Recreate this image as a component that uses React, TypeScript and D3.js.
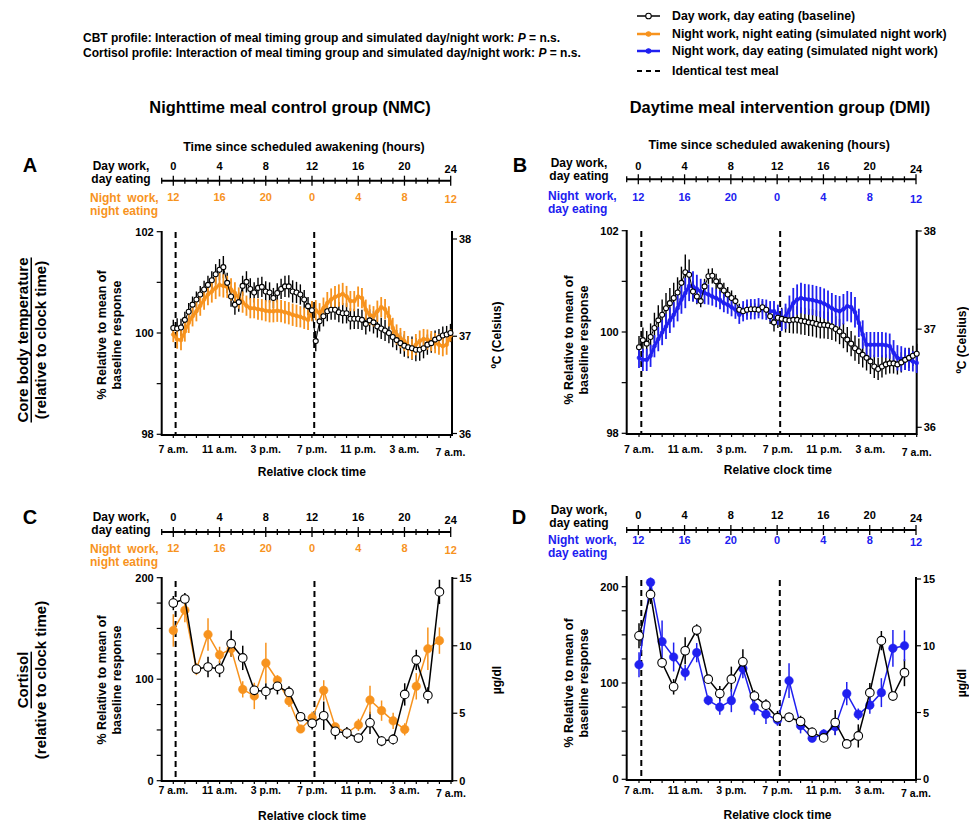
import React, { useEffect, useRef } from 'react'
import * as d3 from 'd3'

// ---------------- data ----------------
const clockLabels = ['7 a.m.', '11 a.m.', '3 p.m.', '7 p.m.', '11 p.m.', '3 a.m.', '7 a.m.']
const dayWorkHours = ['0', '4', '8', '12', '16', '20', '24']
const nightWorkHours = ['12', '16', '20', '0', '4', '8', '12']
const mealHours = [0.2, 12.2]

const cbtStepHours = 1 / 3 // 20-min bins
const cortisolStepHours = 1

// Core body temperature, % relative to mean of baseline
const cbtNmcBaseline = [100.10, 100.09, 100.11, 100.26, 100.42, 100.56, 100.66, 100.76, 100.86, 100.95,
  101.04, 101.16, 101.25, 101.30, 100.99, 100.72, 100.56, 100.61, 100.93, 101.01,
  100.87, 100.80, 100.89, 100.91, 100.82, 100.80, 100.69, 100.79, 100.87, 100.92,
  100.92, 100.82, 100.80, 100.76, 100.66, 100.53, 100.45, 99.84, 100.23, 100.33,
  100.43, 100.46, 100.46, 100.41, 100.39, 100.39, 100.28, 100.28, 100.28, 100.26,
  100.18, 100.25, 100.21, 100.13, 100.09, 100.05, 100.00, 99.92, 99.86, 99.80,
  99.75, 99.72, 99.70, 99.67, 99.67, 99.70, 99.77, 99.80, 99.87, 99.90,
  99.95, 99.97, 100.00]
const cbtNmcBaselineErr = [0.16, 0.2, 0.17, 0.16, 0.17, 0.16, 0.16, 0.17, 0.17, 0.18,
  0.18, 0.2, 0.21, 0.22, 0.2, 0.2, 0.2, 0.19, 0.2, 0.21,
  0.21, 0.2, 0.2, 0.2, 0.2, 0.2, 0.2, 0.19, 0.2, 0.21,
  0.22, 0.22, 0.21, 0.2, 0.19, 0.18, 0.18, 0.2, 0.2, 0.2,
  0.2, 0.2, 0.2, 0.2, 0.2, 0.2, 0.21, 0.2, 0.2, 0.2,
  0.21, 0.22, 0.22, 0.22, 0.21, 0.21, 0.2, 0.2, 0.2, 0.21,
  0.22, 0.22, 0.23, 0.23, 0.22, 0.2, 0.2, 0.19, 0.18, 0.18,
  0.18, 0.17, 0.18]
const cbtNmcNight = [99.97, 99.87, 99.86, 100.03, 100.20, 100.33, 100.43, 100.54, 100.66, 100.76,
  100.82, 100.89, 100.95, 100.93, 100.91, 100.86, 100.79, 100.69, 100.61, 100.54,
  100.49, 100.49, 100.47, 100.46, 100.44, 100.43, 100.43, 100.44, 100.43, 100.41,
  100.39, 100.36, 100.34, 100.32, 100.29, 100.26, 100.43, 100.45, 100.39, 100.49,
  100.59, 100.66, 100.71, 100.74, 100.77, 100.72, 100.63, 100.63, 100.72, 100.69,
  100.46, 100.36, 100.33, 100.43, 100.51, 100.47, 100.33, 100.10, 99.97, 99.90,
  99.84, 99.74, 99.68, 99.77, 99.84, 99.88, 99.87, 99.84, 99.80, 99.77,
  99.74, 99.77, 99.95]
const cbtNmcNightErr = [0.15, 0.18, 0.2, 0.2, 0.2, 0.2, 0.2, 0.2, 0.2, 0.21,
  0.22, 0.22, 0.23, 0.23, 0.22, 0.22, 0.21, 0.21, 0.21, 0.2,
  0.2, 0.2, 0.21, 0.21, 0.21, 0.22, 0.22, 0.22, 0.22, 0.22,
  0.22, 0.22, 0.22, 0.21, 0.21, 0.2, 0.2, 0.2, 0.2, 0.21,
  0.22, 0.22, 0.22, 0.22, 0.22, 0.21, 0.2, 0.2, 0.2, 0.2,
  0.2, 0.2, 0.2, 0.21, 0.2, 0.2, 0.2, 0.2, 0.2, 0.2,
  0.2, 0.2, 0.2, 0.21, 0.21, 0.2, 0.2, 0.2, 0.2, 0.2,
  0.2, 0.2, 0.12]
const cbtDmiBaseline = [99.70, 99.84, 99.77, 99.90, 100.08, 100.23, 100.34, 100.47, 100.57, 100.67,
  100.78, 100.97, 101.18, 101.13, 100.80, 100.70, 100.61, 100.90, 101.10, 101.11,
  101.00, 100.91, 100.82, 100.74, 100.67, 100.61, 100.44, 100.41, 100.44, 100.45,
  100.45, 100.44, 100.49, 100.44, 100.31, 100.19, 100.28, 100.26, 100.24, 100.23,
  100.24, 100.24, 100.22, 100.21, 100.19, 100.18, 100.16, 100.14, 100.14, 100.13,
  100.11, 100.06, 100.01, 99.93, 99.85, 99.77, 99.68, 99.62, 99.55, 99.49,
  99.42, 99.32, 99.27, 99.32, 99.36, 99.38, 99.38, 99.36, 99.40, 99.45,
  99.49, 99.53, 99.57]
const cbtDmiBaselineErr = [0.22, 0.25, 0.25, 0.27, 0.3, 0.3, 0.3, 0.3, 0.3, 0.3,
  0.3, 0.32, 0.35, 0.3, 0.2, 0.15, 0.12, 0.15, 0.15, 0.15,
  0.15, 0.15, 0.15, 0.15, 0.15, 0.12, 0.12, 0.12, 0.12, 0.12,
  0.12, 0.12, 0.12, 0.12, 0.15, 0.18, 0.2, 0.22, 0.25, 0.25,
  0.27, 0.27, 0.27, 0.27, 0.27, 0.27, 0.27, 0.27, 0.27, 0.27,
  0.27, 0.25, 0.25, 0.25, 0.25, 0.25, 0.25, 0.25, 0.25, 0.25,
  0.25, 0.23, 0.22, 0.22, 0.2, 0.2, 0.2, 0.2, 0.2, 0.2,
  0.2, 0.2, 0.2]
const cbtDmiNight = [99.49, 99.45, 99.45, 99.53, 99.72, 99.86, 99.99, 100.11, 100.23, 100.34,
  100.47, 100.64, 100.77, 100.91, 100.90, 100.85, 100.80, 100.77, 100.74, 100.70,
  100.67, 100.63, 100.57, 100.54, 100.49, 100.44, 100.34, 100.41, 100.44, 100.45,
  100.45, 100.47, 100.45, 100.44, 100.41, 100.41, 100.34, 100.24, 100.31, 100.44,
  100.57, 100.64, 100.67, 100.65, 100.64, 100.63, 100.61, 100.59, 100.56, 100.52,
  100.47, 100.43, 100.41, 100.45, 100.51, 100.49, 100.39, 100.18, 99.95, 99.75,
  99.75, 99.75, 99.75, 99.75, 99.74, 99.72, 99.59, 99.49, 99.47, 99.47,
  99.45, 99.42, 99.39]
const cbtDmiNightErr = [0.2, 0.22, 0.22, 0.22, 0.22, 0.24, 0.25, 0.25, 0.25, 0.25,
  0.26, 0.28, 0.3, 0.3, 0.3, 0.28, 0.25, 0.22, 0.2, 0.18,
  0.18, 0.18, 0.18, 0.18, 0.18, 0.18, 0.18, 0.2, 0.2, 0.2,
  0.2, 0.2, 0.2, 0.2, 0.2, 0.2, 0.2, 0.22, 0.25, 0.28,
  0.3, 0.3, 0.3, 0.3, 0.3, 0.3, 0.3, 0.3, 0.3, 0.3,
  0.3, 0.3, 0.3, 0.3, 0.3, 0.3, 0.3, 0.28, 0.28, 0.25,
  0.25, 0.25, 0.25, 0.25, 0.25, 0.25, 0.25, 0.25, 0.25, 0.22,
  0.22, 0.2, 0.2]

// Cortisol, % relative to mean of baseline (hourly)
const cortNmcBaseline = [175, 179, 110, 112, 110, 135, 121, 89, 88, 93, 87, 63, 56.5, 64, 48.6, 47, 42, 57, 39, 40.7, 85, 119, 84, 186]
const cortNmcBaselineErr = [7, 6, 5, 10, 8, 13, 12, 6, 8, 8, 6, 4, 6, 14, 8, 6, 4, 11, 5, 5, 11, 10, 8, 12]
const cortNmcNight = [148, 168, 110, 144, 124, 130, 90, 83.5, 116, 99, 78.5, 51, 62, 89, 53, 47, 55, 79.5, 69, 59, 50.6, 93, 130, 138]
const cortNmcNightErr = [16, 12, 6, 16, 8, 8, 8, 13, 20, 5, 6, 3, 6, 10, 4, 4, 6, 14, 10, 8, 6, 13, 21, 13]
const cortDmiBaseline = [149, 192, 121, 96, 133.5, 155, 104, 89, 104, 122, 86.5, 77, 64, 64.4, 60, 48.8, 43, 59, 36.7, 45, 90, 144, 86.5, 110.7]
const cortDmiBaselineErr = [13, 10, 5, 8, 14, 6, 4, 8, 13, 13, 6, 6, 7, 5, 6, 5, 4, 13, 3, 12, 10, 10, 5, 14]
const cortDmiNight = [119, 204.5, 143, 127, 110.7, 131.5, 82, 75, 81.7, 115, 75, 67.5, 61.6, 102.4, 55.7, 42.6, 47, 54.7, 89, 67.5, 77, 90, 136, 138.7]
const cortDmiNightErr = [13, 5, 22, 15, 8, 10, 5, 8, 12, 10, 8, 10, 6, 18, 8, 4, 5, 9, 12, 6, 9, 15, 19, 16]

const FONT = '"Liberation Sans", Arial, Helvetica, sans-serif'
const ORANGE = '#f7931e'
const BLUE = '#2020f0'

type Sel = d3.Selection<any, unknown, null, undefined>

interface SeriesStyle {
  color: string
  lineWidth: number
  r: number
  open: boolean
  errWidth: number
}

function drawSeries(g: Sel, x: d3.ScaleLinear<number, number>, y: d3.ScaleLinear<number, number>,
  values: number[], errs: number[], step: number, s: SeriesStyle, part: 'err' | 'line') {
  if (part === 'err') {
    g.append('g')
      .selectAll('line')
      .data(values)
      .join('line')
      .attr('x1', (_, i) => x(i * step))
      .attr('x2', (_, i) => x(i * step))
      .attr('y1', (d, i) => y(d - errs[i]))
      .attr('y2', (d, i) => y(d + errs[i]))
      .attr('stroke', s.color)
      .attr('stroke-width', s.errWidth)
    return
  }
  const line = d3.line<number>()
    .x((_, i) => x(i * step))
    .y(d => y(d))
  g.append('path')
    .attr('d', line(values))
    .attr('fill', 'none')
    .attr('stroke', s.color)
    .attr('stroke-width', s.lineWidth)
    .attr('stroke-linejoin', 'round')
  g.append('g')
    .selectAll('circle')
    .data(values)
    .join('circle')
    .attr('cx', (_, i) => x(i * step))
    .attr('cy', d => y(d))
    .attr('r', s.r)
    .attr('fill', s.open ? '#fff' : s.color)
    .attr('stroke', s.color)
    .attr('stroke-width', s.open ? 1.1 : 0.5)
}

interface PanelCfg {
  xRange: [number, number]
  leftX: number
  rightX: number
  baseY: number
  yDomain: [number, number]
  yRange: [number, number]
  yTop: number
  yTicks: number[]
  yLabels: number[]
  rDomain: [number, number]
  rRange: [number, number]
  rTop: number
  rTicks: number[]
  rightTitle: string
  rightTitleX: number
  leftTitleX: number
  titleCY: number
  tickLabelY: number
  xTitleY: number
  mealTop: number
  step: number
  baseline: number[]
  baselineErr: number[]
  other: number[]
  otherErr: number[]
  otherColor: string
  cortisol: boolean
}

function drawPanel(svg: Sel, p: PanelCfg) {
  const g = svg.append('g')
  const x = d3.scaleLinear().domain([0, 24]).range(p.xRange)
  const y = d3.scaleLinear().domain(p.yDomain).range(p.yRange)
  const yr = d3.scaleLinear().domain(p.rDomain).range(p.rRange)

  // x axis
  g.append('line')
    .attr('x1', p.leftX).attr('x2', p.rightX)
    .attr('y1', p.baseY).attr('y2', p.baseY)
    .attr('stroke', '#000').attr('stroke-width', 2)
  g.append('g').selectAll('line')
    .data(d3.range(0, 25))
    .join('line')
    .attr('x1', d => x(d)).attr('x2', d => x(d))
    .attr('y1', p.baseY).attr('y2', p.baseY + 3)
    .attr('stroke', '#000').attr('stroke-width', 1.2)
  g.append('g').selectAll('text')
    .data(clockLabels)
    .join('text')
    .attr('x', (_, i) => x(i * 4))
    .attr('y', (_, i) => p.tickLabelY + (i === clockLabels.length - 1 ? 3 : 0))
    .attr('text-anchor', 'middle')
    .attr('dominant-baseline', 'central')
    .attr('font-size', 10.5)
    .attr('font-weight', 700)
    .text(d => d)
  g.append('text')
    .attr('x', (p.xRange[0] + p.xRange[1]) / 2)
    .attr('y', p.xTitleY)
    .attr('text-anchor', 'middle')
    .attr('dominant-baseline', 'central')
    .attr('font-size', 12)
    .attr('font-weight', 700)
    .text('Relative clock time')

  // left axis
  g.append('line')
    .attr('x1', p.leftX).attr('x2', p.leftX)
    .attr('y1', p.yTop).attr('y2', p.baseY + 1)
    .attr('stroke', '#000').attr('stroke-width', 2)
  g.append('g').selectAll('line')
    .data(p.yTicks)
    .join('line')
    .attr('x1', p.leftX - 5).attr('x2', p.leftX)
    .attr('y1', d => y(d)).attr('y2', d => y(d))
    .attr('stroke', '#000').attr('stroke-width', 1.2)
  g.append('g').selectAll('text')
    .data(p.yLabels)
    .join('text')
    .attr('x', p.leftX - 8)
    .attr('y', d => y(d))
    .attr('text-anchor', 'end')
    .attr('dominant-baseline', 'central')
    .attr('font-size', 11)
    .attr('font-weight', 700)
    .text(d => d)
  const lt = g.append('text')
    .attr('transform', `translate(${p.leftTitleX},${p.titleCY}) rotate(-90)`)
    .attr('text-anchor', 'middle')
    .attr('font-size', 12.5)
    .attr('font-weight', 700)
  lt.append('tspan').attr('x', 0).attr('dy', 0).text('% Relative to mean of')
  lt.append('tspan').attr('x', 0).attr('dy', 15).text('baseline response')

  // right axis
  g.append('line')
    .attr('x1', p.rightX).attr('x2', p.rightX)
    .attr('y1', p.rTop).attr('y2', p.baseY + 1)
    .attr('stroke', '#000').attr('stroke-width', 2)
  g.append('g').selectAll('line')
    .data(p.rTicks)
    .join('line')
    .attr('x1', p.rightX).attr('x2', p.rightX + 5)
    .attr('y1', d => yr(d)).attr('y2', d => yr(d))
    .attr('stroke', '#000').attr('stroke-width', 1.2)
  g.append('g').selectAll('text')
    .data(p.rTicks)
    .join('text')
    .attr('x', p.rightX + 7)
    .attr('y', d => yr(d))
    .attr('dominant-baseline', 'central')
    .attr('font-size', 11)
    .attr('font-weight', 700)
    .text(d => d)
  g.append('text')
    .attr('transform', `translate(${p.rightTitleX},${p.titleCY}) rotate(-90)`)
    .attr('text-anchor', 'middle')
    .attr('dominant-baseline', 'central')
    .attr('font-size', 12)
    .attr('font-weight', 700)
    .text(p.rightTitle)

  // identical test meal
  g.append('g').selectAll('line')
    .data(mealHours)
    .join('line')
    .attr('x1', d => x(d)).attr('x2', d => x(d))
    .attr('y1', p.mealTop).attr('y2', p.baseY)
    .attr('stroke', '#000').attr('stroke-width', 2)
    .attr('stroke-dasharray', '6,4')

  const baseStyle: SeriesStyle = p.cortisol
    ? { color: '#000', lineWidth: 1.5, r: 4.3, open: true, errWidth: 1.5 }
    : { color: '#000', lineWidth: 1, r: 2.5, open: true, errWidth: 1.4 }
  const otherStyle: SeriesStyle = p.cortisol
    ? { color: p.otherColor, lineWidth: 1.5, r: 4.3, open: false, errWidth: 1.5 }
    : { color: p.otherColor, lineWidth: 3, r: 2, open: false, errWidth: 1.8 }

  drawSeries(g, x, y, p.baseline, p.baselineErr, p.step, baseStyle, 'err')
  drawSeries(g, x, y, p.other, p.otherErr, p.step, otherStyle, 'err')
  drawSeries(g, x, y, p.other, p.otherErr, p.step, otherStyle, 'line')
  drawSeries(g, x, y, p.baseline, p.baselineErr, p.step, baseStyle, 'line')
}

interface TopAxisCfg {
  leftX: number
  xRange: [number, number]
  lineY: number
  numY: number
  colNumY: number
  dayCX: number
  dayY: number
  nightX: number
  nightY: number
  nightLine2: string
  color: string
  title: boolean
  titleY: number
}

function drawTopAxis(svg: Sel, t: TopAxisCfg) {
  const g = svg.append('g')
  const x = d3.scaleLinear().domain([0, 24]).range(t.xRange)
  if (t.title) {
    g.append('text')
      .attr('x', (t.xRange[0] + t.xRange[1]) / 2 - 8)
      .attr('y', t.titleY)
      .attr('text-anchor', 'middle')
      .attr('dominant-baseline', 'central')
      .attr('font-size', 12.4)
      .attr('font-weight', 700)
      .text('Time since scheduled awakening (hours)')
  }
  g.append('line')
    .attr('x1', t.leftX).attr('x2', x(24))
    .attr('y1', t.lineY).attr('y2', t.lineY)
    .attr('stroke', '#000').attr('stroke-width', 2)
  g.append('g').selectAll('line')
    .data(d3.range(0, 25))
    .join('line')
    .attr('x1', d => x(d)).attr('x2', d => x(d))
    .attr('y1', d => t.lineY - (d % 4 === 0 ? 5 : 3))
    .attr('y2', d => t.lineY + (d % 4 === 0 ? 5 : 3))
    .attr('stroke', '#000').attr('stroke-width', 1.3)
  g.append('line')
    .attr('x1', t.leftX).attr('x2', t.leftX)
    .attr('y1', t.lineY - 3).attr('y2', t.lineY + 3)
    .attr('stroke', '#000').attr('stroke-width', 1.3)
  g.append('g').selectAll('text')
    .data(dayWorkHours)
    .join('text')
    .attr('x', (_, i) => x(i * 4))
    .attr('y', (_, i) => t.numY + (i === 6 ? 3 : 0))
    .attr('text-anchor', 'middle')
    .attr('dominant-baseline', 'central')
    .attr('font-size', 11)
    .attr('font-weight', 700)
    .text(d => d)
  g.append('g').selectAll('text')
    .data(nightWorkHours)
    .join('text')
    .attr('x', (_, i) => x(i * 4))
    .attr('y', (_, i) => t.colNumY + (i === 6 ? 2 : 0))
    .attr('text-anchor', 'middle')
    .attr('dominant-baseline', 'central')
    .attr('font-size', 11)
    .attr('font-weight', 700)
    .attr('fill', t.color)
    .text(d => d)
  const day = g.append('text')
    .attr('text-anchor', 'middle')
    .attr('font-size', 12)
    .attr('font-weight', 700)
  day.append('tspan').attr('x', t.dayCX).attr('y', t.dayY).attr('dominant-baseline', 'central').text('Day work,')
  day.append('tspan').attr('x', t.dayCX).attr('y', t.dayY + 13).attr('dominant-baseline', 'central').text('day eating')
  const night = g.append('text')
    .attr('font-size', 12)
    .attr('font-weight', 700)
    .attr('fill', t.color)
    .style('white-space', 'pre')
  night.append('tspan').attr('x', t.nightX).attr('y', t.nightY).attr('dominant-baseline', 'central').text('Night  work,')
  night.append('tspan').attr('x', t.nightX).attr('y', t.nightY + 13).attr('dominant-baseline', 'central').text(t.nightLine2)
}

export default function App() {
  const svgRef = useRef<SVGSVGElement>(null)

  useEffect(() => {
    if (!svgRef.current) return
    const svg = d3.select(svgRef.current) as unknown as Sel
    svg.selectAll('*').remove()
    svg.attr('font-family', FONT)

    // header statements
    const head = svg.append('g').attr('font-size', 12).attr('font-weight', 700)
    const h1 = head.append('text').attr('x', 83).attr('y', 42)
    h1.append('tspan').text('CBT profile: Interaction of meal timing group and simulated day/night work: ')
    h1.append('tspan').attr('font-style', 'italic').text('P')
    h1.append('tspan').text(' = n.s.')
    const h2 = head.append('text').attr('x', 83).attr('y', 57)
    h2.append('tspan').text('Cortisol profile: Interaction of meal timing group and simulated day/night work: ')
    h2.append('tspan').attr('font-style', 'italic').text('P')
    h2.append('tspan').text(' = n.s.')

    // legend
    const legendRows = [
      { label: 'Day work, day eating (baseline)', color: '#000', kind: 'open' },
      { label: 'Night work, night eating (simulated night work)', color: ORANGE, kind: 'filled' },
      { label: 'Night work, day eating (simulated night work)', color: BLUE, kind: 'filled' },
      { label: 'Identical test meal', color: '#000', kind: 'dash' }
    ]
    const legendY = [16, 34, 51, 71]
    const lg = svg.append('g')
    legendRows.forEach((row, i) => {
      const yy = legendY[i]
      lg.append('line')
        .attr('x1', 637).attr('x2', 660).attr('y1', yy).attr('y2', yy)
        .attr('stroke', row.color)
        .attr('stroke-width', row.kind === 'dash' ? 2 : row.kind === 'open' ? 1.5 : 2.5)
        .attr('stroke-dasharray', row.kind === 'dash' ? '5,4' : null)
      if (row.kind !== 'dash') {
        lg.append('circle')
          .attr('cx', 648.5).attr('cy', yy)
          .attr('r', row.kind === 'open' ? 2.8 : 2.2)
          .attr('fill', row.kind === 'open' ? '#fff' : row.color)
          .attr('stroke', row.color).attr('stroke-width', 1.1)
      }
      lg.append('text')
        .attr('x', 672).attr('y', yy)
        .attr('dominant-baseline', 'central')
        .attr('font-size', 12.3)
        .attr('font-weight', 700)
        .text(row.label)
    })

    // group titles
    svg.append('text').attr('x', 290).attr('y', 107)
      .attr('text-anchor', 'middle').attr('dominant-baseline', 'central')
      .attr('font-size', 16.4).attr('font-weight', 700)
      .text('Nighttime meal control group (NMC)')
    svg.append('text').attr('x', 780).attr('y', 107)
      .attr('text-anchor', 'middle').attr('dominant-baseline', 'central')
      .attr('font-size', 16.4).attr('font-weight', 700)
      .text('Daytime meal intervention group (DMI)')

    // panel letters
    const letters = [
      { t: 'A', x: 30, y: 165 }, { t: 'B', x: 520, y: 165 },
      { t: 'C', x: 30, y: 517 }, { t: 'D', x: 519, y: 517 }
    ]
    letters.forEach(l => {
      svg.append('text').attr('x', l.x).attr('y', l.y)
        .attr('text-anchor', 'middle').attr('dominant-baseline', 'central')
        .attr('font-size', 20).attr('font-weight', 700).text(l.t)
    })

    // row labels
    const rows = [
      { main: 'Core body temperature', cy: 340 },
      { main: 'Cortisol', cy: 680 }
    ]
    rows.forEach(r => {
      svg.append('text')
        .attr('transform', `translate(22,${r.cy}) rotate(-90)`)
        .attr('text-anchor', 'middle').attr('dominant-baseline', 'central')
        .attr('font-size', 15).attr('font-weight', 700)
        .style('text-decoration', 'underline')
        .text(r.main)
      svg.append('text')
        .attr('transform', `translate(40,${r.cy}) rotate(-90)`)
        .attr('text-anchor', 'middle').attr('dominant-baseline', 'central')
        .attr('font-size', 15).attr('font-weight', 700)
        .text('(relative to clock time)')
    })

    // top axes
    drawTopAxis(svg, {
      leftX: 161.7, xRange: [173.3, 450.7], lineY: 180.7, numY: 166, colNumY: 197,
      dayCX: 121, dayY: 166, nightX: 90, nightY: 198, nightLine2: 'night eating',
      color: ORANGE, title: true, titleY: 147
    })
    drawTopAxis(svg, {
      leftX: 626.7, xRange: [638.3, 916], lineY: 179.3, numY: 166, colNumY: 197,
      dayCX: 579, dayY: 163, nightX: 548, nightY: 196, nightLine2: 'day eating',
      color: BLUE, title: true, titleY: 145
    })
    drawTopAxis(svg, {
      leftX: 161.7, xRange: [173.3, 450.7], lineY: 532, numY: 517, colNumY: 548,
      dayCX: 121, dayY: 517, nightX: 90, nightY: 549, nightLine2: 'night eating',
      color: ORANGE, title: false, titleY: 0
    })
    drawTopAxis(svg, {
      leftX: 626.7, xRange: [638.3, 916], lineY: 530, numY: 515, colNumY: 540,
      dayCX: 579, dayY: 510, nightX: 548, nightY: 540, nightLine2: 'day eating',
      color: BLUE, title: false, titleY: 0
    })

    // panels
    drawPanel(svg, {
      xRange: [173.3, 450.5], leftX: 161.7, rightX: 452, baseY: 435,
      yDomain: [98, 102], yRange: [434.3, 231.7], yTop: 231, yTicks: [98, 99, 100, 101, 102], yLabels: [98, 100, 102],
      rDomain: [36, 38], rRange: [433.5, 239], rTop: 231, rTicks: [36, 37, 38],
      rightTitle: '\u00baC (Celsius)', rightTitleX: 497, leftTitleX: 106, titleCY: 335,
      tickLabelY: 449, xTitleY: 472, mealTop: 232, step: cbtStepHours,
      baseline: cbtNmcBaseline, baselineErr: cbtNmcBaselineErr,
      other: cbtNmcNight, otherErr: cbtNmcNightErr, otherColor: ORANGE, cortisol: false
    })
    drawPanel(svg, {
      xRange: [639, 916.7], leftX: 626.7, rightX: 916.7, baseY: 434,
      yDomain: [98, 102], yRange: [433.3, 230.7], yTop: 230, yTicks: [98, 99, 100, 101, 102], yLabels: [98, 100, 102],
      rDomain: [36, 38], rRange: [427.3, 231], rTop: 230, rTicks: [36, 37, 38],
      rightTitle: '\u00baC (Celsius)', rightTitleX: 962, leftTitleX: 573, titleCY: 340,
      tickLabelY: 449, xTitleY: 470, mealTop: 231, step: cbtStepHours,
      baseline: cbtDmiBaseline, baselineErr: cbtDmiBaselineErr,
      other: cbtDmiNight, otherErr: cbtDmiNightErr, otherColor: BLUE, cortisol: false
    })
    drawPanel(svg, {
      xRange: [173.3, 451], leftX: 161.7, rightX: 452.3, baseY: 781,
      yDomain: [0, 200], yRange: [780.7, 577.7], yTop: 577, yTicks: d3.range(0, 201, 25), yLabels: [0, 100, 200],
      rDomain: [0, 15], rRange: [780.7, 578.3], rTop: 577, rTicks: [0, 5, 10, 15],
      rightTitle: '\u00b5g/dl', rightTitleX: 497, leftTitleX: 106, titleCY: 680,
      tickLabelY: 790, xTitleY: 816, mealTop: 581, step: cortisolStepHours,
      baseline: cortNmcBaseline, baselineErr: cortNmcBaselineErr,
      other: cortNmcNight, otherErr: cortNmcNightErr, otherColor: ORANGE, cortisol: true
    })
    drawPanel(svg, {
      xRange: [639, 916], leftX: 626.7, rightX: 916, baseY: 780,
      yDomain: [0, 200], yRange: [779.3, 586.7], yTop: 576, yTicks: d3.range(0, 201, 25), yLabels: [0, 100, 200],
      rDomain: [0, 15], rRange: [779.3, 579], rTop: 577, rTicks: [0, 5, 10, 15],
      rightTitle: '\u00b5g/dl', rightTitleX: 962, leftTitleX: 573, titleCY: 683,
      tickLabelY: 790, xTitleY: 815, mealTop: 580, step: cortisolStepHours,
      baseline: cortDmiBaseline, baselineErr: cortDmiBaselineErr,
      other: cortDmiNight, otherErr: cortDmiNightErr, otherColor: BLUE, cortisol: true
    })
  }, [])

  return (
    <svg
      ref={svgRef}
      width={969}
      height={822}
      style={{ position: 'absolute', left: 0, top: 0, background: '#fff' }}
    />
  )
}
